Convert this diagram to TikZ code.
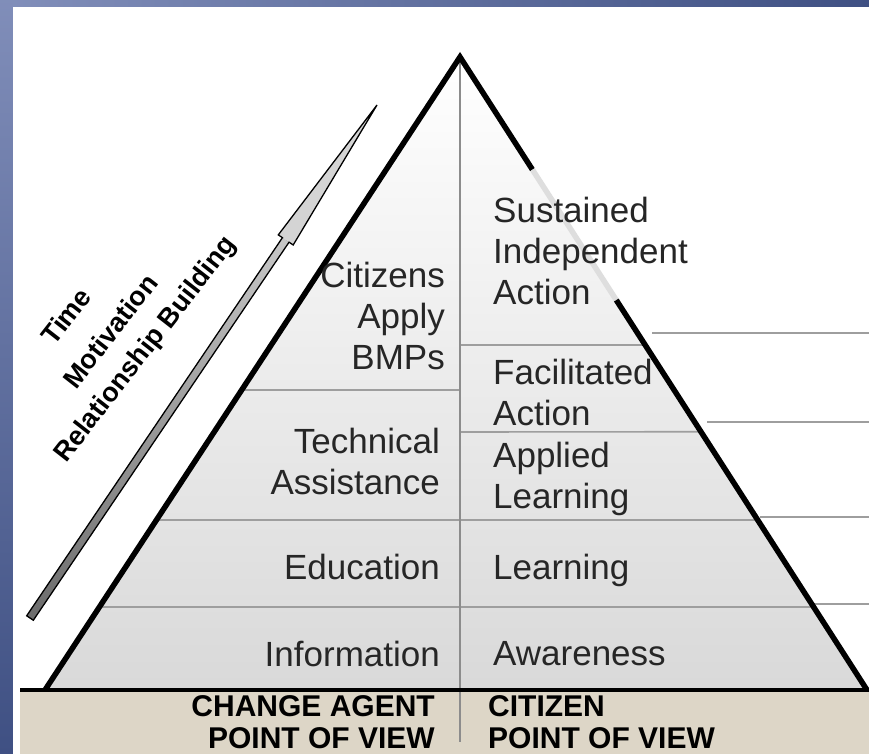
\documentclass[tikz,border=0pt]{standalone}
\usepackage{fontspec}
\setmainfont{Liberation Sans}
\usetikzlibrary{calc,positioning}

\definecolor{slide}{HTML}{5668A2}
\definecolor{slidedark}{HTML}{3F5083}
\definecolor{ground}{HTML}{DDD6C7}

\begin{document}
\begin{tikzpicture}[x=1pt,y=-1pt,>=stealth,
    lvl/.style={inner sep=0pt,text=black!85,font=\fontsize{35}{41}\selectfont},
    povlbl/.style={inner sep=0pt,font=\bfseries\fontsize{30}{32}\selectfont},
    sidelbl/.style={inner sep=0pt,rotate=52,font=\bfseries\fontsize{27}{30}\selectfont},
    divider/.style={draw=black!38,line width=1.6pt},
    edge/.style={line width=5.5pt,line join=miter}]
      \useasboundingbox (0,0) rectangle (869,754);
      \def\groundy{690}
      % slide frame and ground
      \fill[top color=slide!75!white,bottom color=slidedark] (0,0) rectangle (13,754);
      \fill[left color=slide!75!white,right color=slidedark] (13,0) rectangle (869,7);
      \fill[white] (13,7) rectangle (869,754);
      \fill[ground] (20,\groundy) rectangle (869,754);
      \coordinate (apex) at (460,57);
      \coordinate (baseL) at (45,\groundy);
      \coordinate (baseR) at (867,\groundy);
      \shade[top color=white,bottom color=black!15] (apex) -- (baseL) -- (baseR) -- cycle;
      % levels
      \draw[divider] ($(apex)!0.526!(baseL)$) -- (460,390);
      \draw[divider] (460,345) -- ($(apex)!0.455!(baseR)$);
      \draw[divider] (460,432) -- ($(apex)!0.592!(baseR)$);
      \draw[divider] ($(apex)!0.731!(baseL)$) -- ($(apex)!0.731!(baseR)$);
      \draw[divider] ($(apex)!0.869!(baseL)$) -- ($(apex)!0.869!(baseR)$);
      \draw[divider] (652,333) -- (869,333);
      \draw[divider] (707,422) -- (869,422);
      \draw[divider] (760,517) -- (869,517);
      \draw[divider] (812,604) -- (869,604);
      \draw[black!45,line width=1.3pt] (apex) -- (460,742);
      % pyramid outline
      \draw[edge] (baseL) -- (apex) -- ($(apex)!0.178!(baseR)$);
      \draw[edge,black!13] ($(apex)!0.178!(baseR)$) -- ($(apex)!0.384!(baseR)$);
      \draw[edge] ($(apex)!0.384!(baseR)$) -- (baseR);
      \draw[line width=4pt] (20,\groundy) -- (869,\groundy);
      % arrow
      \coordinate (arrS) at (30,618);
      \coordinate (arrT) at (377,105);
      \coordinate (arrB) at ($(arrS)!0.737!(arrT)$);
      \fill[top color=black!22,bottom color=black!58] ($(arrS)!4pt!90:(arrT)$) -- ($(arrB)!4pt!-90:(arrS)$)
        -- ($(arrB)!4pt!90:(arrS)$) -- ($(arrS)!4pt!-90:(arrT)$) -- cycle;
      \fill[black!17] ($(arrB)!9pt!-90:(arrS)$) -- (arrT) -- ($(arrB)!9pt!90:(arrS)$) -- cycle;
      \draw[line width=1.3pt,line join=miter] ($(arrS)!4pt!90:(arrT)$) -- ($(arrB)!4pt!-90:(arrS)$)
        -- ($(arrB)!9pt!-90:(arrS)$) -- (arrT) -- ($(arrB)!9pt!90:(arrS)$)
        -- ($(arrB)!4pt!90:(arrS)$) -- ($(arrS)!4pt!-90:(arrT)$) -- cycle;
      \node[sidelbl] (time) at (66,316) {Time};
      \node[sidelbl] (motiv) at (110,331) {Motivation};
      \node[sidelbl] (relbuild) at (146,350) {Relationship Building};
      % change agent side
      \node[lvl,anchor=east,align=right] (apply) at (445,316) {Citizens\\Apply\\BMPs};
      \node[lvl,anchor=east,align=right] (techassist) at (440,461) {Technical\\Assistance};
      \node[lvl,anchor=east] (educ) at (440,567) {Education};
      \node[lvl,anchor=east] (info) at (440,654) {Information};
      % citizen side
      \node[lvl,anchor=west,align=left] (sustained) at (493,251) {Sustained\\Independent\\Action};
      \node[lvl,anchor=west,align=left] (facil) at (493,392) {Facilitated\\Action};
      \node[lvl,anchor=west,align=left] (applied) at (493,479) {Applied\\Learning};
      \node[lvl,anchor=west] (learning) at (493,570) {Learning};
      \node[lvl,anchor=west] (aware) at (493,654) {Awareness};
      \node[povlbl,anchor=east,align=right] (agentpov) at (435,722) {CHANGE AGENT\\POINT OF VIEW};
      \node[povlbl,anchor=west,align=left] (citizenpov) at (488,722) {CITIZEN\\POINT OF VIEW};
\end{tikzpicture}
\end{document}
